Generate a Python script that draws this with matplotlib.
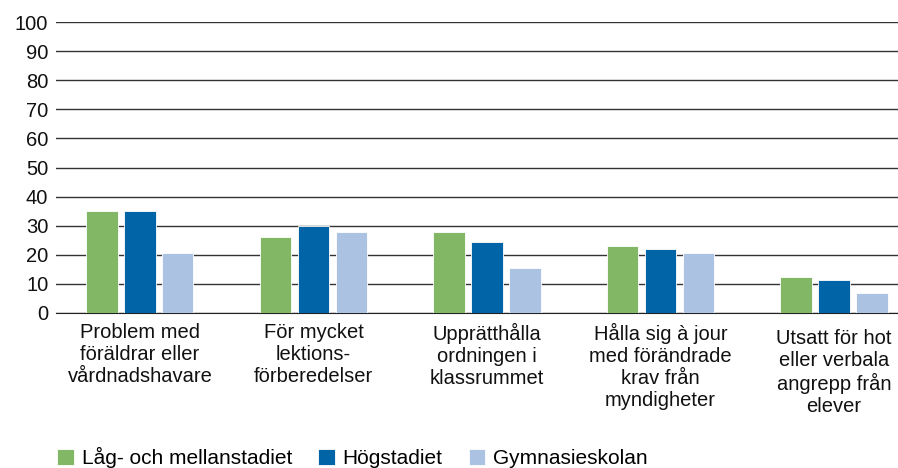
import matplotlib.pyplot as plt
import matplotlib.transforms as mtransforms
import numpy as np

categories = [
    "Problem med\nföräldrar eller\nvårdnadshavare",
    "För mycket\nlektions-\nförberedelser",
    "Upprätthålla\nordningen i\nklassrummet",
    "Hålla sig à jour\nmed förändrade\nkrav från\nmyndigheter",
    "Utsatt för hot\neller verbala\nangrepp från\nelever",
]
series_names = ["Låg- och mellanstadiet", "Högstadiet", "Gymnasieskolan"]
lag_mellan = [35, 26, 28, 23, 12.5]
hogstadiet = [35, 30, 24.5, 22, 11.5]
gymnasiet = [20.5, 28, 15.5, 20.5, 7]
colors = ["#82B865", "#0064A7", "#ABC2E3"]

plt.rcParams['font.family'] = ['Liberation Sans', 'DejaVu Sans']

fig = plt.figure(figsize=(8.98, 4.68), dpi=100)
ax = fig.add_axes([56 / 898, 1 - 313 / 468, 1 - 56 / 898, 291 / 468])

x = np.arange(len(categories))
w = 0.179
off = 0.219
for i, (vals, c) in enumerate(zip([lag_mellan, hogstadiet, gymnasiet], colors)):
    ax.bar(x + (i - 1) * off, vals, width=w, color=c, label=series_names[i], zorder=3,
           edgecolor="white", linewidth=0.6)

ax.set_ylim(0, 100)
ax.set_xlim(-0.484, 4.369)
ax.set_yticks(range(0, 101, 10))
ax.yaxis.grid(True, color="#333333", linewidth=1)
ax.set_axisbelow(True)
for s in ["top", "right", "left"]:
    ax.spines[s].set_visible(False)
ax.spines["bottom"].set_color("#222222")
ax.tick_params(axis="both", length=0, labelsize=14.5, colors="#111111")
ax.tick_params(axis="y", pad=5.5)
ax.set_xticks(x)
ax.set_xticklabels(categories, linespacing=1.2)
ax.tick_params(axis="x", pad=7)

# last label sits a bit lower in the original
lbl = ax.get_xticklabels()[-1]
lbl.set_transform(lbl.get_transform() + mtransforms.ScaledTranslation(0, -6 / 100, fig.dpi_scale_trans))

fig.legend(loc="lower left", bbox_to_anchor=(57 / 898, 0.0), ncol=3, frameon=False,
           fontsize=15, handlelength=0.8, handleheight=0.8, handletextpad=0.38,
           columnspacing=1.25, borderpad=0, borderaxespad=0.0)

fig.savefig("out.png", dpi=100)
